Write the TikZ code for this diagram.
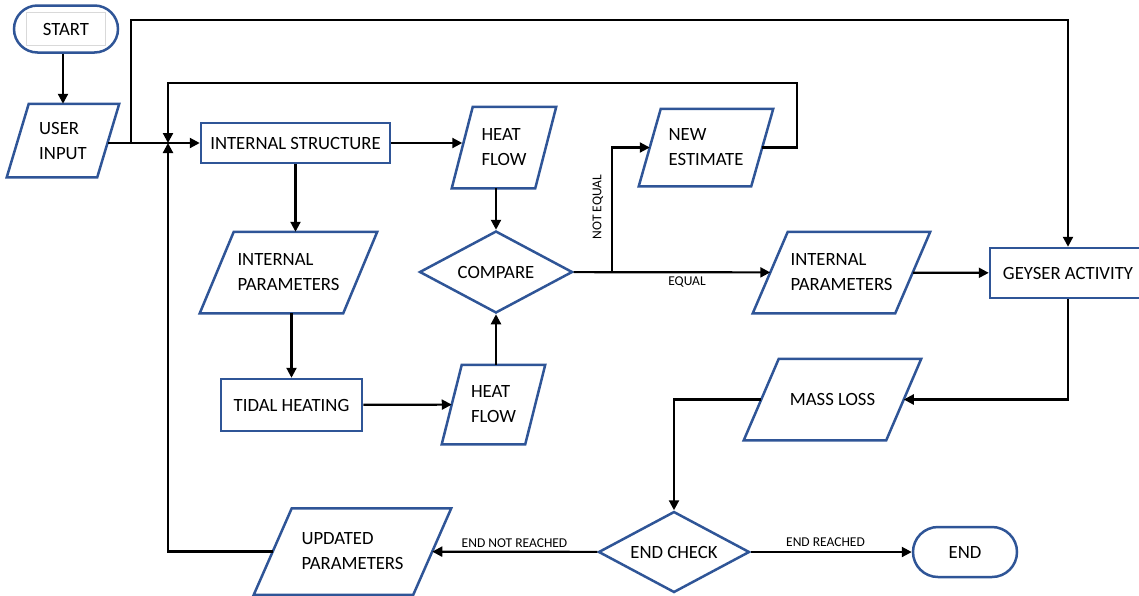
\documentclass[tikz,border=0pt]{standalone}
\usepackage{fontspec}
\setmainfont{Carlito}
\usetikzlibrary{shapes.geometric,shapes.misc,arrows.meta}

\definecolor{boxblue}{RGB}{47,85,151}
\newcommand{\boxfont}{\fontsize{18.7}{25}\selectfont}
\newcommand{\tagfont}{\fontsize{13.5}{15}\selectfont}

\tikzset{
  box/.style={draw=boxblue, line width=2.5pt, fill=white, font=\boxfont, inner sep=2pt},
  process/.style={box, rectangle},
  io/.style={box, draw=none, fill=none, rectangle, align=left},
  ioline/.style={draw=boxblue, line width=2.5pt},
  decision/.style={box, diamond, aspect=1.86, inner sep=0pt},
  terminal/.style={box, rounded rectangle},
  wire/.style={line width=2.2pt},
  flow/.style={wire, -{Triangle[length=10pt,width=10pt]}},
  edgelabel/.style={font=\tagfont, inner sep=1pt},
}

\begin{document}
\begin{tikzpicture}[x=1pt,y=-1pt]
  \useasboundingbox (0,0) rectangle (1139,595);

  % boxes
  \node[terminal, minimum width=108pt, minimum height=47pt] (start) at (66,29) {};
  \node[draw=black!15, line width=0.8pt, font=\boxfont, minimum width=79pt,
        minimum height=33pt, inner sep=0pt] (starttext) at (start) {START};
  \node[io, minimum width=88pt, minimum height=71pt] (userin) at (63,140.5) {USER\\INPUT};
  \node[process, minimum width=189pt, minimum height=40pt] (intstruct) at (295.5,143) {INTERNAL STRUCTURE};
  \node[io, minimum width=141pt, minimum height=79pt] (intparL) at (288.5,272.5) {INTERNAL\\PARAMETERS};
  \node[process, minimum width=141pt, minimum height=52pt] (tidal) at (291.5,405) {TIDAL HEATING};
  \node[io, minimum width=81pt, minimum height=79pt] (heattop) at (504,147.5) {HEAT\\FLOW};
  \node[io, minimum width=81pt, minimum height=77pt] (heatbot) at (493.5,404.5) {HEAT\\FLOW};
  \node[decision, minimum width=153pt, minimum height=82pt] (compare) at (496,272) {COMPARE};
  \node[io, minimum width=110pt, minimum height=75pt] (newest) at (706,147.5) {NEW\\ESTIMATE};
  \node[io, minimum width=140pt, minimum height=79pt] (intparR) at (841.5,272.5) {INTERNAL\\PARAMETERS};
  \node[process, minimum width=156pt, minimum height=50pt] (geyser) at (1068,273) {GEYSER ACTIVITY};
  \node[io, minimum width=140pt, minimum height=79pt] (massloss) at (832.5,399.5) {MASS LOSS};
  \node[decision, minimum width=151pt, minimum height=81pt] (endcheck) at (674,552) {END CHECK};
  \node[io, minimum width=157pt, minimum height=84pt] (updpar) at (352.5,551.5) {UPDATED\\PARAMETERS};
  \node[terminal, minimum width=108pt, minimum height=50pt] (stop) at (965,552) {END};

  % slanted outlines of the input/output boxes (name/half slant)
  \foreach \n/\s in {userin/11, intparL/17, heattop/10.5, heatbot/10, newest/11,
                     intparR/17.5, massloss/17.5, updpar/19}
    \draw[ioline] ([xshift=\s pt]\n.north west) -- ([xshift=\s pt]\n.north east)
      -- ([xshift=-\s pt]\n.south east) -- ([xshift=-\s pt]\n.south west) -- cycle;

  \coordinate (split) at (131,143);
  \coordinate (topturn) at (131,20);
  \coordinate (merge) at (168,143);
  \coordinate (loopturn) at (797,83);
  \coordinate (fork) at (612,272);

  % connectors
  \draw[flow] (start.south -| userin) -- (userin);
  \draw[flow] (userin.east |- intstruct) -- (intstruct);
  \draw[flow] (split) -- (topturn) -| (geyser);
  \draw[flow] (newest) -| (loopturn) -| (merge);
  \draw[flow] (updpar) -| (merge);
  \draw[flow] (intstruct.east) -- (intstruct.east -| heattop.west);
  \draw[flow] (intstruct) -- (intstruct |- intparL.north);
  \draw[flow] (intparL.south -| tidal) -- (tidal);
  \draw[flow] (tidal) -- (heatbot);
  \draw[flow] (heattop.south -| compare) -- (compare);
  \draw[flow] (heatbot.north -| compare) -- (compare);
  \draw[flow] (compare) -- (intparR);
  \draw[flow] (fork) |- (newest);
  \draw[flow] (intparR) -- (geyser);
  \draw[flow] (geyser) |- (massloss);
  \draw[flow] (massloss) -| (endcheck);
  \draw[flow] (endcheck) -- (updpar);
  \draw[flow] (endcheck) -- (stop);

  % labels
  \node[edgelabel, rotate=90] (lblnoteq) at (598,207) {NOT EQUAL};
  \node[edgelabel] (lbleq) at (687,282.5) {EQUAL};
  \node[edgelabel] (lblnotend) at (514.5,543) {END NOT REACHED};
  \node[edgelabel] (lblend) at (825.5,542) {END REACHED};
\end{tikzpicture}
\end{document}
